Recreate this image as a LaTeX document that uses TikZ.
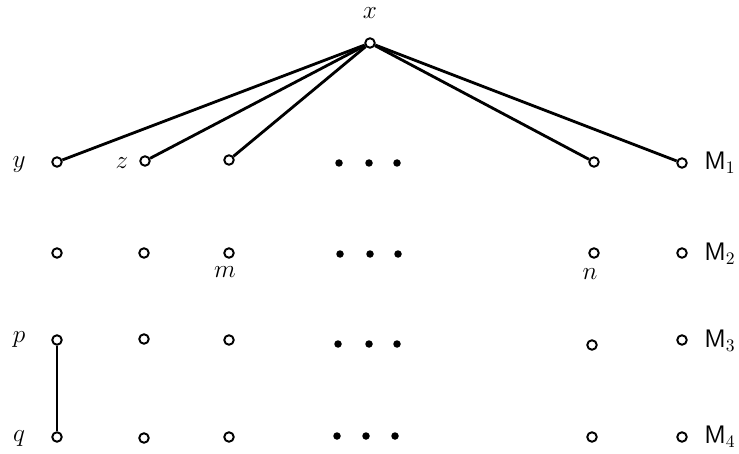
\documentclass[tikz,border=0pt]{standalone}
\usepackage{amsmath,amssymb}
\usetikzlibrary{positioning}

\begin{document}
\begin{tikzpicture}[x=1cm,y=1cm]
\tikzset{
  vertex/.style={circle,draw,line width=1.1pt,minimum size=1.9mm,inner sep=0pt},
  ellipsisdot/.style={circle,fill,minimum size=1.5mm,inner sep=0pt},
  tag/.style={font=\Large,inner sep=1pt},
  edge/.style={line width=1.6pt}
}
\useasboundingbox (0,0) rectangle (14.78,9.06);
% top vertex
\node[vertex] (n_x) at (7.40,8.20) {};
\node[tag] (t_x) at (7.40,8.80) {$x$};
% row M_1
\node[vertex] (n_y) at (1.14,5.82) {};
\node[vertex] (n_z) at (2.90,5.84) {};
\node[vertex] (n_m1) at (4.58,5.86) {};
\node[ellipsisdot] (d_11) at (6.78,5.80) {};
\node[ellipsisdot] (d_12) at (7.38,5.80) {};
\node[ellipsisdot] (d_13) at (7.94,5.80) {};
\node[vertex] (n_n1) at (11.88,5.82) {};
\node[vertex] (n_M1) at (13.64,5.80) {};
% row M_2
\node[vertex] (n_a2) at (1.14,4.00) {};
\node[vertex] (n_b2) at (2.88,4.00) {};
\node[vertex] (n_m2) at (4.58,4.00) {};
\node[ellipsisdot] (d_21) at (6.80,3.98) {};
\node[ellipsisdot] (d_22) at (7.40,3.98) {};
\node[ellipsisdot] (d_23) at (7.96,3.98) {};
\node[vertex] (n_n2) at (11.88,4.00) {};
\node[vertex] (n_M2) at (13.64,4.00) {};
% row M_3
\node[vertex] (n_p) at (1.14,2.26) {};
\node[vertex] (n_b3) at (2.88,2.28) {};
\node[vertex] (n_m3) at (4.58,2.26) {};
\node[ellipsisdot] (d_31) at (6.76,2.18) {};
\node[ellipsisdot] (d_32) at (7.38,2.18) {};
\node[ellipsisdot] (d_33) at (7.94,2.18) {};
\node[vertex] (n_n3) at (11.84,2.16) {};
\node[vertex] (n_M3) at (13.64,2.26) {};
% row M_4
\node[vertex] (n_q) at (1.14,0.32) {};
\node[vertex] (n_b4) at (2.88,0.30) {};
\node[vertex] (n_m4) at (4.58,0.32) {};
\node[ellipsisdot] (d_41) at (6.74,0.34) {};
\node[ellipsisdot] (d_42) at (7.32,0.34) {};
\node[ellipsisdot] (d_43) at (7.90,0.34) {};
\node[vertex] (n_n4) at (11.84,0.32) {};
\node[vertex] (n_M4) at (13.64,0.32) {};
% labels
\node[tag] (t_y) at (0.38,5.76) {$y$};
\node[tag] (t_z) at (2.44,5.80) {$z$};
\node[tag] (t_m) at (4.50,3.62) {$m$};
\node[tag] (t_n) at (11.80,3.58) {$n$};
\node[tag] (t_p) at (0.38,2.26) {$p$};
\node[tag] (t_q) at (0.38,0.28) {$q$};
\node[tag,anchor=west,inner sep=0pt] (t_M1) at (14.08,5.80) {\textsf{M}$_1$};
\node[tag,anchor=west,inner sep=0pt] (t_M2) at (14.08,3.98) {\textsf{M}$_2$};
\node[tag,anchor=west,inner sep=0pt] (t_M3) at (14.08,2.24) {\textsf{M}$_3$};
\node[tag,anchor=west,inner sep=0pt] (t_M4) at (14.08,0.32) {\textsf{M}$_4$};
% edges
\draw[edge] (n_x) -- (n_y);
\draw[edge] (n_x) -- (n_z);
\draw[edge] (n_x) -- (n_m1);
\draw[edge] (n_x) -- (n_n1);
\draw[edge] (n_x) -- (n_M1);
\draw[edge] (n_p) -- (n_q);
\end{tikzpicture}
\end{document}
